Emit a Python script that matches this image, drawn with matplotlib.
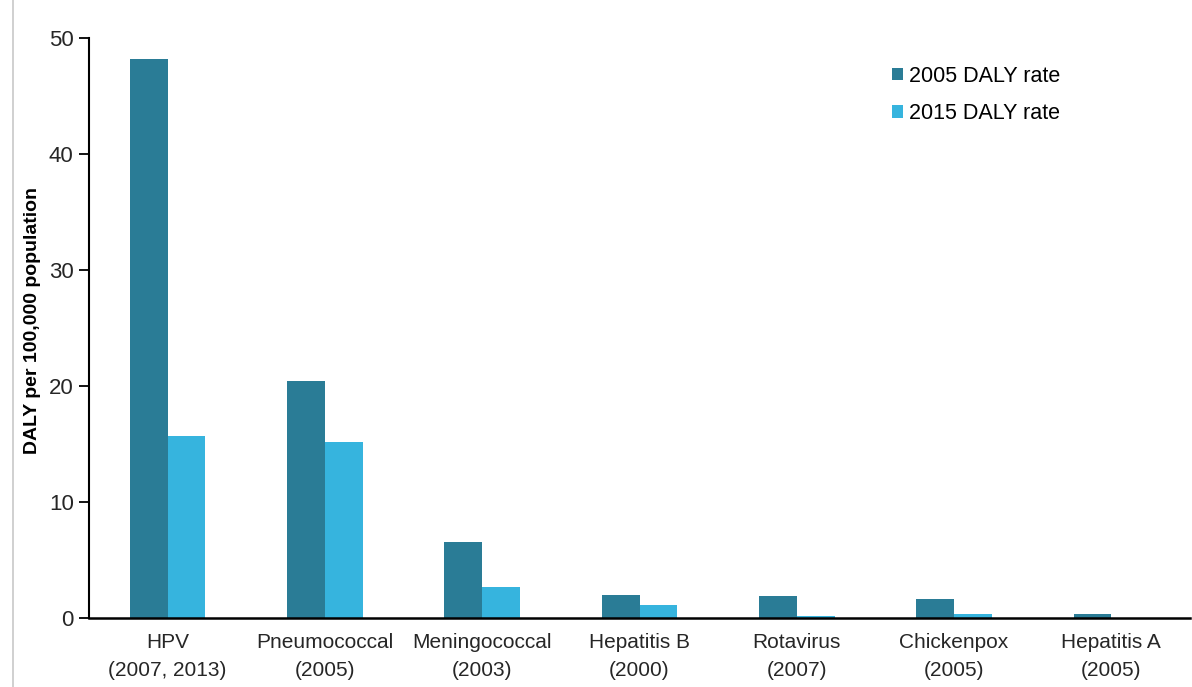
import matplotlib
matplotlib.use("Agg")
import matplotlib.pyplot as plt
import numpy as np
from matplotlib.lines import Line2D

categories = ["HPV\n(2007, 2013)", "Pneumococcal\n(2005)", "Meningococcal\n(2003)",
              "Hepatitis B\n(2000)", "Rotavirus\n(2007)", "Chickenpox\n(2005)", "Hepatitis A\n(2005)"]
rate_2005 = [48.2, 20.4, 6.55, 1.98, 1.9, 1.65, 0.35]
rate_2015 = [15.7, 15.2, 2.67, 1.1, 0.2, 0.35, 0.0]
series_names = ["2005 DALY rate", "2015 DALY rate"]
yticks = [0, 10, 20, 30, 40, 50]

plt.rcParams['font.family'] = ['Liberation Sans', 'DejaVu Sans']

fig = plt.figure(figsize=(11.92, 6.87), dpi=100)
ax = fig.add_axes([89/1192, 1 - 618/687, (1190-89)/1192, (618-38)/687])

x = np.arange(len(categories))
w = 0.24
c1, c2 = "#2A7C96", "#36B4DE"
ax.bar(x - w/2, rate_2005, w, color=c1, label=series_names[0])
ax.bar(x + w/2, rate_2015, w, color=c2, label=series_names[1])

ax.set_xlim(-0.5, len(categories) - 0.5)
ax.set_ylim(0, 50)
ax.set_yticks(yticks)
ax.set_xticks(x)
ax.set_xticklabels(categories, fontsize=15, color="#262626", linespacing=1.6)
ax.tick_params(axis='x', length=0, pad=11)
ax.tick_params(axis='y', length=7, width=1.3, labelsize=16, pad=4, labelcolor="#262626")

for s in ['top', 'right']:
    ax.spines[s].set_visible(False)
ax.spines['left'].set_linewidth(1.5)
ax.spines['bottom'].set_linewidth(1.8)

ax.set_ylabel("DALY per 100,000 population", fontsize=14, fontweight='bold', va='center')
ax.yaxis.set_label_coords((33 - 89) / 1101, (618 - 320) / 580)

leg = ax.legend(loc='upper left', bbox_to_anchor=(892/1192, 1 - 66/687),
                bbox_transform=fig.transFigure, frameon=False, fontsize=15.5,
                handlelength=0.5, handleheight=0.5, handletextpad=0.3,
                labelspacing=0.75, borderaxespad=0, borderpad=0)

fig.add_artist(Line2D([13/1192, 13/1192], [0, 1], transform=fig.transFigure,
                      color="#C8C8C8", linewidth=1.2))

fig.savefig("out.png", dpi=100)
